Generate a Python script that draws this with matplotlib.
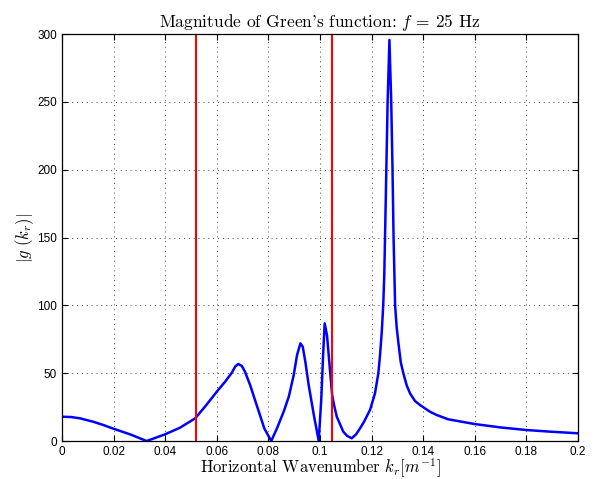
import numpy as np
import matplotlib
matplotlib.use('Agg')
import matplotlib.pyplot as plt

plt.rcParams['mathtext.fontset'] = 'cm'
plt.rcParams['axes.unicode_minus'] = False

# |g(k_r)|
kr = [0.0, 0.0035, 0.007, 0.0121, 0.016, 0.0196, 0.0264, 0.0328, 0.0399, 0.0457, 0.0516,
      0.0554, 0.0600, 0.0632, 0.0658, 0.0671, 0.0683, 0.0697, 0.0709, 0.0729, 0.0748,
      0.0767, 0.0784, 0.0811, 0.0833, 0.0859, 0.0879, 0.0898, 0.0911, 0.0924, 0.0933,
      0.0943, 0.0956, 0.0976, 0.0995, 0.1005, 0.1012, 0.1018, 0.1027, 0.1038, 0.1047,
      0.1055, 0.1065, 0.109, 0.1105, 0.1123, 0.114, 0.1155, 0.117, 0.1194, 0.1213,
      0.1226, 0.1232, 0.1239, 0.1245, 0.1249, 0.1252, 0.1257, 0.1262, 0.1269, 0.1276,
      0.1281, 0.1285, 0.1291, 0.1297, 0.1304, 0.1313, 0.1323, 0.1336, 0.1349, 0.1368,
      0.1388, 0.1426, 0.1452, 0.1497, 0.16, 0.17, 0.18, 0.19, 0.2]
g = [17.9, 17.7, 16.7, 14.2, 11.8, 9.3, 4.9, 0.0, 4.9, 9.8, 16.7,
     25.3, 36.4, 43.7, 50.3, 54.8, 56.8, 55.3, 51.1, 41.3, 30.2,
     19.2, 9.3, 0.0, 9.3, 21.6, 32.7, 48.6, 63.4, 72.0, 69.5,
     58.5, 41.3, 19.2, 0.0, 31.5, 63.4, 86.7, 78.0, 53.6, 34.0,
     26.0, 17.9, 6.9, 3.8, 2.0, 5.0, 9.3, 14.0, 23.0, 35.1,
     49.9, 62.0, 79.4, 100.2, 122.0, 150.6, 200.0, 250.0, 295.6, 250.0,
     200.0, 150.6, 100.2, 84.0, 72.0, 58.0, 49.9, 41.0, 35.1, 29.5,
     26.5, 21.6, 19.2, 16.0, 12.5, 10.0, 8.1, 6.8, 5.7]

red_lines = [0.0521, 0.1047]

fig = plt.figure(figsize=(5.97, 4.79), dpi=100)
ax = fig.add_axes([0.1039, 0.0793, 0.8643, 0.8497])

ax.plot(kr, g, color='blue', lw=1.8)
for xr in red_lines:
    ax.axvline(xr, color='red', lw=1.5)

ax.set_xlim(0, 0.2)
ax.set_ylim(0, 300)
ax.set_xticks(np.arange(0, 0.201, 0.02))
ax.set_xticklabels(['0', '0.02', '0.04', '0.06', '0.08', '0.1', '0.12', '0.14', '0.16', '0.18', '0.2'])
ax.set_yticks(np.arange(0, 301, 50))

ax.grid(True, color='#444444', linestyle=(0, (1, 4)), lw=0.7)
ax.tick_params(direction='in', top=True, right=True, length=4, width=0.8, labelsize=8.5)
for lab in ax.get_xticklabels() + ax.get_yticklabels():
    lab.set_family('Liberation Sans')
for s in ax.spines.values():
    s.set_linewidth(0.9)

ax.set_title("Magnitude of Green's function: $f$ = 25 Hz", family='cmr10', fontsize=12.5, pad=5)
ax.set_xlabel('Horizontal Wavenumber $k_r[m^{-1}]$', family='cmr10', fontsize=12, labelpad=-1)
ax.set_ylabel('$|g\\ (k_r)|$', fontsize=12, labelpad=1)

fig.savefig('out.png', dpi=100)
